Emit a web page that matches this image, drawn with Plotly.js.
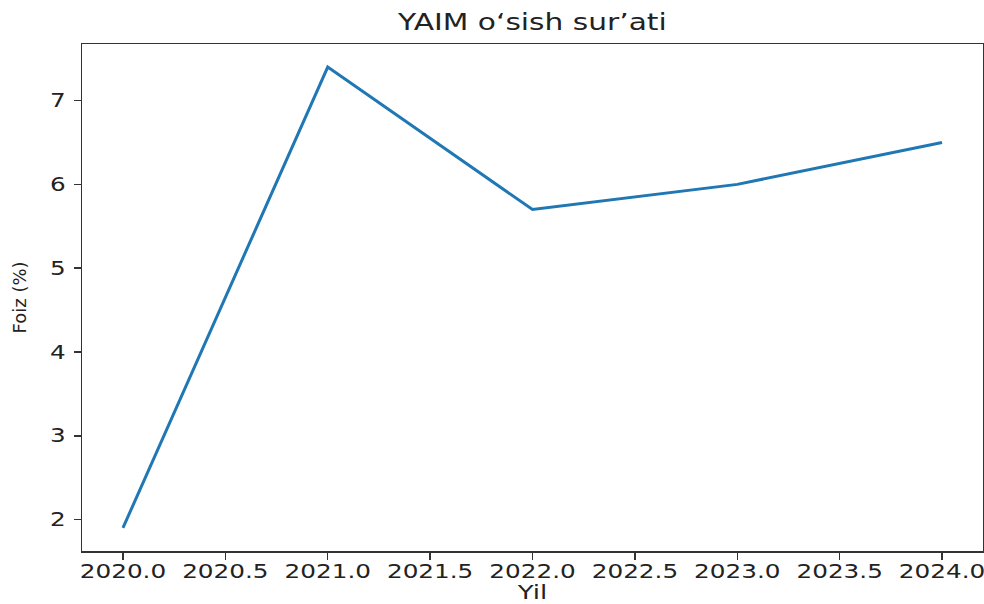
<!DOCTYPE html>
<html>
<head>
<meta charset="utf-8">
<script src="https://cdn.plot.ly/plotly-3.0.1.min.js"></script>
<style>
html,body{margin:0;padding:0;background:#fff;}
#chart{width:984px;height:604px;}
</style>
</head>
<body>
<div id="chart"></div>
<script>
const years = [2020, 2021, 2022, 2023, 2024];
const growth = [1.9, 7.4, 5.7, 6.0, 6.5];
const xTicks = [2020.0, 2020.5, 2021.0, 2021.5, 2022.0, 2022.5, 2023.0, 2023.5, 2024.0];
const xTickText = ["2020.0", "2020.5", "2021.0", "2021.5", "2022.0", "2022.5", "2023.0", "2023.5", "2024.0"];
const yTicks = [2, 3, 4, 5, 6, 7];

const font = "DejaVu Sans, sans-serif";
Plotly.newPlot("chart", [{
  x: years, y: growth, type: "scatter", mode: "lines",
  line: {color: "#1f77b4", width: 3}
}], {
  width: 984, height: 604,
  margin: {l: 82, r: 1, t: 44, b: 53},
  paper_bgcolor: "#fff", plot_bgcolor: "#fff",
  showlegend: false,
  title: {text: "YAIM o‘sish sur’ati", font: {family: font, size: 23, color: "#222"}, x: 0.541, xanchor: "center", y: 0.963, yanchor: "middle"},
  xaxis: {
    range: [2019.8, 2024.2], tickvals: xTicks, ticktext: xTickText,
    ticks: "outside", ticklen: 7, tickwidth: 1.5, tickcolor: "#333",
    showline: true, mirror: true, linecolor: "#333", linewidth: 1.5,
    showgrid: false, zeroline: false,
    tickfont: {family: font, size: 19, color: "#222"},
    title: {text: "Yil", font: {family: font, size: 20, color: "#222"}, standoff: 18},
    automargin: false
  },
  yaxis: {
    range: [1.625, 7.675], tickvals: yTicks,
    ticks: "outside", ticklen: 7, tickwidth: 1.5, tickcolor: "#333",
    showline: true, mirror: true, linecolor: "#333", linewidth: 1.5,
    showgrid: false, zeroline: false,
    ticklabelstandoff: 4,
    tickfont: {family: font, size: 19, color: "#222"},
    title: {text: "Foiz (%)", font: {family: font, size: 18, color: "#222"}, standoff: 22},
    automargin: false
  }
}, {displayModeBar: false, staticPlot: true}).then(function (gd) {
  function stretch(sel, factor) {
    gd.querySelectorAll(sel).forEach(function (t) {
      const w = t.getComputedTextLength();
      if (w > 0) {
        t.setAttribute("textLength", (w * factor).toFixed(1));
        t.setAttribute("lengthAdjust", "spacingAndGlyphs");
      }
    });
  }
  stretch(".xtick text", 1.3);
  stretch(".ytick text", 1.3);
  stretch(".gtitle", 1.29);
  stretch(".xtitle", 1.3);
  gd.querySelectorAll(".xtick text").forEach(function (t) {
    const y = parseFloat(t.getAttribute("y") || "0");
    t.setAttribute("y", (y - 4).toFixed(1));
  });
});
</script>
</body>
</html>
